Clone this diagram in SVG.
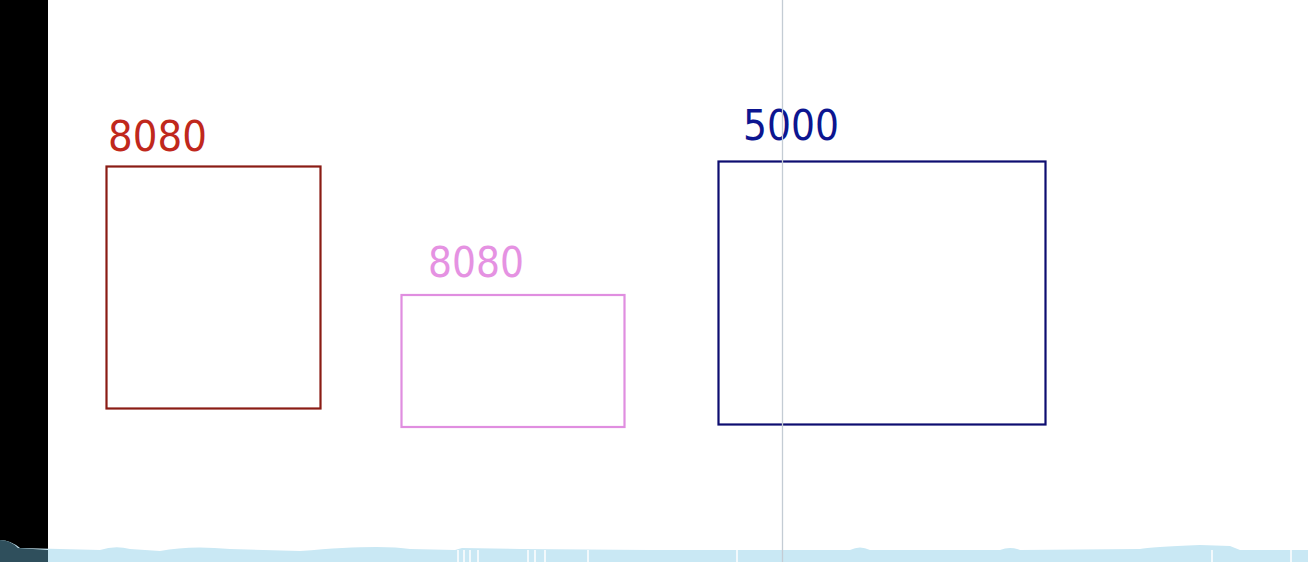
<svg xmlns="http://www.w3.org/2000/svg" width="1308" height="562" viewBox="0 0 1308 562">
<style>
.lbl{font-family:"DejaVu Sans","Noto Sans",sans-serif;font-size:42px}
.box{fill:#ffffff;stroke-width:2.2}
</style>
<rect x="0" y="0" width="1308" height="562" fill="#ffffff"/>
<rect x="0" y="0" width="48" height="562" fill="#000000"/>
<g id="connectors"></g>
<g id="node-8080-red">
<rect class="box" x="106.5" y="166.5" width="214" height="242" stroke="#8a1c14"/>
<text class="lbl" x="108" y="151" fill="#c0281c" textLength="99" lengthAdjust="spacingAndGlyphs">8080</text>
</g>
<g id="node-8080-pink">
<rect class="box" x="401.5" y="295" width="223" height="132" stroke="#e08ee0"/>
<text class="lbl" x="428" y="277" fill="#e592e2" textLength="96" lengthAdjust="spacingAndGlyphs">8080</text>
</g>
<g id="node-5000">
<rect class="box" x="718.5" y="161.5" width="327" height="263" stroke="#0d0d70"/>
<text class="lbl" x="743" y="140" fill="#0c1590" textLength="96" lengthAdjust="spacingAndGlyphs">5000</text>
</g>
<path d="M0 562 L0 540 Q10 540 20 548 L100 550 Q115 545 130 549 L160 551 Q190 545 230 549 L300 551 Q380 544 410 549 L455 550 L462 548 L520 549 L650 550 L850 550 Q860 545 870 550 L1000 550 Q1010 546 1020 550 L1140 549 Q1150 547 1200 545 L1230 546 L1240 550 L1308 550 L1308 562 Z" fill="#c9e8f4"/>
<path d="M0 562 L0 540 Q10 540 18 548 L48 550 L48 562 Z" fill="#2f4f5c"/>
<g stroke="#ffffff" stroke-width="1.5">
<line x1="458" y1="550" x2="458" y2="562"/><line x1="464" y1="550" x2="464" y2="562"/><line x1="470" y1="550" x2="470" y2="562"/><line x1="478" y1="550" x2="478" y2="562"/>
<line x1="528" y1="550" x2="528" y2="562"/><line x1="535" y1="550" x2="535" y2="562"/><line x1="545" y1="550" x2="545" y2="562"/><line x1="588" y1="550" x2="588" y2="562"/>
<line x1="737" y1="550" x2="737" y2="562"/><line x1="1212" y1="550" x2="1212" y2="562"/><line x1="1291" y1="550" x2="1291" y2="562"/>
</g>
<line x1="782.5" y1="0" x2="782.5" y2="562" stroke="#c4ccd4" stroke-width="1.3"/>
</svg>
